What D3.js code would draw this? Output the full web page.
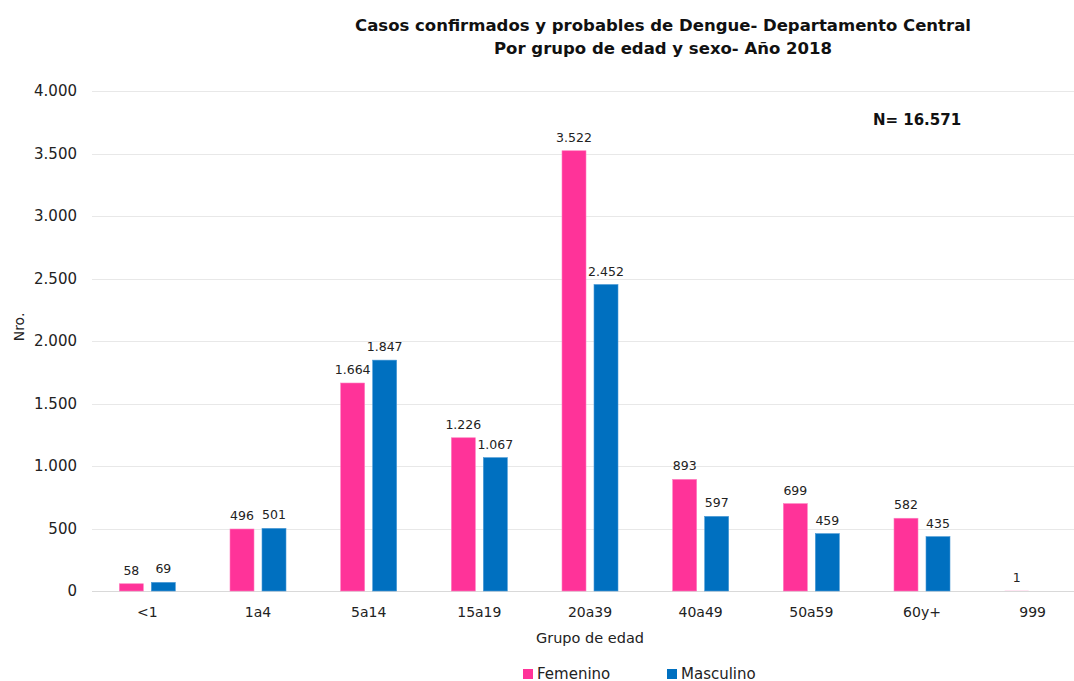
<!DOCTYPE html>
<html>
<head>
<meta charset="utf-8">
<script src="https://cdn.jsdelivr.net/npm/d3@7"></script>
<style>
  html, body { margin: 0; padding: 0; background: #fff; }
  svg { display: block; font-family: "DejaVu Sans", sans-serif; }
</style>
</head>
<body>
<div id="chart"></div>
<script>
// Datos
const grupos = ["<1", "1a4", "5a14", "15a19", "20a39", "40a49", "50a59", "60y+", "999"];
const femenino = [58, 496, 1664, 1226, 3522, 893, 699, 582, 1];
const masculino = [69, 501, 1847, 1067, 2452, 597, 459, 435, null];
const series = ["Femenino", "Masculino"];
const colores = ["#FF3399", "#0070C0"];
const yTicks = [0, 500, 1000, 1500, 2000, 2500, 3000, 3500, 4000];
const titulo = ["Casos confirmados y probables de Dengue- Departamento Central",
                "Por grupo de edad y sexo- Año 2018"];
const nTotal = "N= 16.571";

const W = 1074, H = 681;
const margin = { top: 91, right: -14, bottom: 90, left: 92 };
const width = W - margin.left - margin.right;
const height = H - margin.top - margin.bottom;

const fmt = d3.formatLocale({ decimal: ",", thousands: ".", grouping: [3], currency: ["", ""] }).format(",d");

const svg = d3.select("#chart").append("svg")
    .attr("width", W).attr("height", H);

const g = svg.append("g").attr("transform", `translate(${margin.left},${margin.top})`);

// Escalas
const x = d3.scaleBand().domain(grupos).range([0, width]).paddingInner(0).paddingOuter(0);
const xs = d3.scaleBand().domain(series).range([x.bandwidth() / 2 - 28, x.bandwidth() / 2 + 28]).paddingInner(0.25);
const y = d3.scaleLinear().domain([0, 4000]).range([height, 0]);

// Rejilla
g.append("g").selectAll("line").data(yTicks).join("line")
    .attr("x1", 0).attr("x2", width)
    .attr("y1", d => Math.round(y(d)) + 0.5).attr("y2", d => Math.round(y(d)) + 0.5)
    .attr("stroke", d => d === 0 ? "#d9d9d9" : "#e8e8e8").attr("stroke-width", 1);

// Eje Y
const yAxis = g.append("g").call(d3.axisLeft(y).tickValues(yTicks).tickFormat(fmt).tickSize(0).tickPadding(15));
yAxis.select(".domain").remove();
yAxis.selectAll("text").attr("font-size", 15).attr("fill", "#222").attr("font-family", "DejaVu Sans");

// Eje X
const xAxis = g.append("g").attr("transform", `translate(0,${height})`)
    .call(d3.axisBottom(x).tickSize(0).tickPadding(16));
xAxis.select(".domain").remove();
xAxis.selectAll("text").attr("font-size", 14).attr("fill", "#222").attr("font-family", "DejaVu Sans");

// Barras
const filas = grupos.map((gr, i) => ({ grupo: gr, valores: [femenino[i], masculino[i]] }));
const grp = g.append("g").selectAll("g").data(filas).join("g")
    .attr("transform", d => `translate(${x(d.grupo)},0)`);

const items = grp.selectAll("g").data(d => d.valores.map((v, j) => ({ serie: series[j], v, j })).filter(d => d.v != null))
    .join("g");

items.append("rect")
    .attr("x", d => xs(d.serie))
    .attr("width", xs.bandwidth())
    .attr("y", d => y(d.v))
    .attr("height", d => y(0) - y(d.v))
    .attr("fill", d => colores[d.j])
    .attr("stroke", d => (y(0) - y(d.v)) < 2 ? "none" : (d.j === 0 ? "#ff7fc0" : "#4a9ad6"))
    .attr("stroke-width", 0.6);

items.append("text")
    .attr("x", d => xs(d.serie) + xs.bandwidth() / 2)
    .attr("y", d => y(d.v) - 9)
    .attr("text-anchor", "middle")
    .attr("font-size", 12.5).attr("fill", "#222")
    .text(d => fmt(d.v));

// Títulos
svg.append("g").selectAll("text").data(titulo).join("text")
    .attr("x", 663).attr("y", (d, i) => 31 + i * 23)
    .attr("text-anchor", "middle")
    .attr("font-size", 16.5).attr("font-weight", "bold").attr("fill", "#111")
    .text(d => d);

svg.append("text")
    .attr("x", 917).attr("y", 125).attr("text-anchor", "middle")
    .attr("font-size", 15).attr("font-weight", "bold").attr("fill", "#111")
    .text(nTotal);

svg.append("text")
    .attr("transform", `translate(24,${margin.top + height / 2 - 14}) rotate(-90)`)
    .attr("text-anchor", "middle").attr("font-size", 14).attr("fill", "#222")
    .text("Nro.");

svg.append("text")
    .attr("x", 590).attr("y", 643).attr("text-anchor", "middle")
    .attr("font-size", 14.5).attr("fill", "#222")
    .text("Grupo de edad");

// Leyenda
const legX = [523, 667];
const leg = svg.append("g").selectAll("g").data(series).join("g")
    .attr("transform", (d, i) => `translate(${legX[i]},669)`);
leg.append("rect").attr("width", 10).attr("height", 10).attr("fill", (d, i) => colores[i]);
leg.append("text").attr("x", 14).attr("y", 9.5).attr("font-size", 15).attr("fill", "#222").text(d => d);
</script>
</body>
</html>
